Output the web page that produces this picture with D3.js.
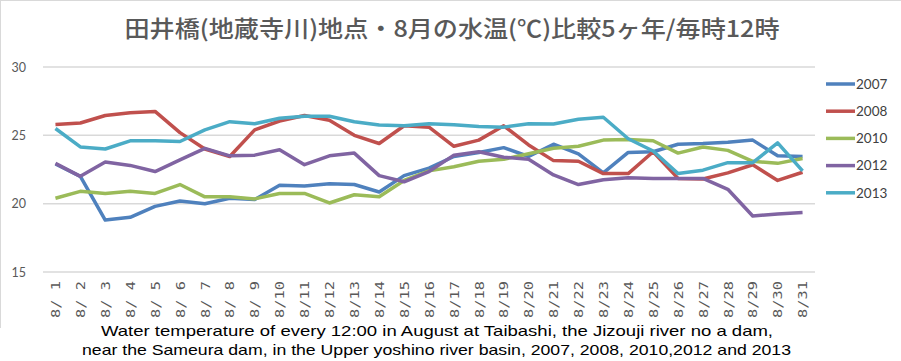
<!DOCTYPE html>
<html><head><meta charset="utf-8">
<script src="https://cdn.jsdelivr.net/npm/d3@7"></script>
<style>html,body{margin:0;padding:0;background:#fff;}svg{display:block;}</style>
</head><body>
<svg id="chart" width="901" height="361"></svg>
<script>
const days = d3.range(1, 32).map(d => "8/" + (d < 10 ? " " + d : d));
const seriesNames = ["2007", "2008", "2010", "2012", "2013"];
const v2007 = [22.9, 22.0, 18.8, 19.0, 19.8, 20.2, 20.0, 20.4, 20.3, 21.35, 21.3, 21.45, 21.4, 20.85, 22.05, 22.6, 23.45, 23.75, 24.1, 23.45, 24.35, 23.65, 22.25, 23.75, 23.8, 24.35, 24.4, 24.5, 24.65, 23.5, 23.45];
const v2008 = [25.8, 25.9, 26.45, 26.65, 26.75, 25.2, 24.0, 23.45, 25.4, 26.05, 26.45, 26.1, 25.0, 24.4, 25.7, 25.6, 24.2, 24.65, 25.7, 24.3, 23.15, 23.1, 22.2, 22.2, 23.8, 21.85, 21.8, 22.25, 22.85, 21.7, 22.3];
const v2010 = [20.4, 20.9, 20.75, 20.9, 20.75, 21.4, 20.5, 20.5, 20.35, 20.75, 20.75, 20.05, 20.65, 20.5, 21.7, 22.4, 22.7, 23.1, 23.25, 23.65, 24.05, 24.2, 24.65, 24.7, 24.6, 23.7, 24.15, 23.9, 23.1, 22.95, 23.3];
const v2012 = [22.95, 22.0, 23.05, 22.8, 22.35, 23.2, 24.05, 23.5, 23.55, 23.95, 22.85, 23.5, 23.7, 22.05, 21.6, 22.35, 23.55, 23.8, 23.4, 23.25, 22.1, 21.4, 21.75, 21.9, 21.85, 21.85, 21.85, 21.05, 19.1, 19.25, 19.35];
const v2013 = [25.5, 24.15, 24.0, 24.6, 24.6, 24.55, 25.4, 26.0, 25.85, 26.25, 26.4, 26.4, 26.0, 25.75, 25.7, 25.85, 25.78, 25.65, 25.6, 25.85, 25.83, 26.17, 26.32, 24.75, 23.85, 22.2, 22.45, 23.0, 23.0, 24.45, 22.4];
const seriesValues = [v2007, v2008, v2010, v2012, v2013];
const colors = ["#4F81BD", "#C0504D", "#9BBB59", "#8064A2", "#4BACC6"];
const yTicks = [15, 20, 25, 30];
const titleText = "田井橋(地蔵寺川)地点・8月の水温(℃)比較5ヶ年/毎時12時";
const captionLines = [
  "Water temperature of every 12:00 in August at Taibashi, the Jizouji river no a dam,",
  "near the Sameura dam, in the Upper yoshino river basin, 2007, 2008, 2010,2012 and 2013"
];

const svg = d3.select("#chart");
const plot = {left: 43, right: 815, top: 67, bottom: 272};

// chart border (top & left visible)
svg.append("line").attr("x1", 0).attr("x2", 901).attr("y1", 0.5).attr("y2", 0.5).attr("stroke", "#D9D9D9");
svg.append("line").attr("x1", 0.5).attr("x2", 0.5).attr("y1", 0).attr("y2", 328).attr("stroke", "#D9D9D9");

const x = d3.scalePoint().domain(days).range([plot.left, plot.right]).padding(0.5);
const y = d3.scaleLinear().domain([15, 30]).range([plot.bottom, plot.top]);

// gridlines
svg.append("g").selectAll("line").data(yTicks).join("line")
  .attr("x1", plot.left).attr("x2", plot.right)
  .attr("y1", d => y(d)).attr("y2", d => y(d))
  .attr("stroke", "#D9D9D9").attr("stroke-width", 1.5);

// y axis
const yAxis = svg.append("g").attr("transform", `translate(${plot.left - 17},0)`)
  .call(d3.axisLeft(y).tickValues(yTicks).tickSize(0).tickPadding(0));
yAxis.select(".domain").remove();
yAxis.selectAll("text").attr("font-family", "Lato, 'Open Sans', sans-serif").attr("font-size", 12.5).attr("fill", "#595959");

// x axis labels
const xAxis = svg.append("g").attr("transform", `translate(0,${plot.bottom})`)
  .call(d3.axisBottom(x).tickSize(0).tickPadding(0));
xAxis.select(".domain").remove();
xAxis.selectAll("text")
  .attr("font-family", "'DejaVu Sans Mono', monospace")
  .attr("font-size", 12).attr("fill", "#595959")
  .attr("text-anchor", "end")
  .attr("dy", "0.35em")
  .attr("textLength", 37).attr("lengthAdjust", "spacingAndGlyphs")
  .attr("transform", "translate(0,9) rotate(-90)")
  .attr("x", 0).attr("y", 0);

// lines
const line = d3.line().x((d, i) => x(days[i])).y(d => y(d));
svg.append("g").selectAll("path").data(seriesValues).join("path")
  .attr("d", d => line(d))
  .attr("fill", "none")
  .attr("stroke", (d, i) => colors[i])
  .attr("stroke-width", 3.5)
  .attr("stroke-linejoin", "round");

// legend
const leg = svg.append("g");
seriesNames.forEach((n, i) => {
  const ly = 84 + i * 27.2;
  leg.append("line").attr("x1", 826).attr("x2", 855).attr("y1", ly).attr("y2", ly)
    .attr("stroke", colors[i]).attr("stroke-width", 3.5);
  leg.append("text").attr("x", 856).attr("y", ly).attr("dy", "0.36em")
    .attr("font-family", "Lato, 'Open Sans', sans-serif").attr("font-size", 13.5)
    .attr("fill", "#404040").text(n);
});

// title
svg.append("text").attr("x", 452).attr("y", 37).attr("text-anchor", "middle")
  .attr("font-family", "'Noto Sans CJK JP', sans-serif").attr("font-size", 23).attr("font-weight", 500)
  .attr("fill", "#595959")
  .attr("textLength", 655).attr("lengthAdjust", "spacingAndGlyphs")
  .text(titleText);

// caption
const capExt = [[101, 773], [82, 791]];
captionLines.forEach((t, i) => {
  svg.append("text").attr("x", (capExt[i][0] + capExt[i][1]) / 2).attr("y", 336 + i * 19)
    .attr("text-anchor", "middle")
    .attr("font-family", "'Liberation Sans', Arial, sans-serif").attr("font-size", 15)
    .attr("fill", "#000")
    .attr("textLength", capExt[i][1] - capExt[i][0]).attr("lengthAdjust", "spacingAndGlyphs")
    .text(t);
});
</script>
</body></html>
